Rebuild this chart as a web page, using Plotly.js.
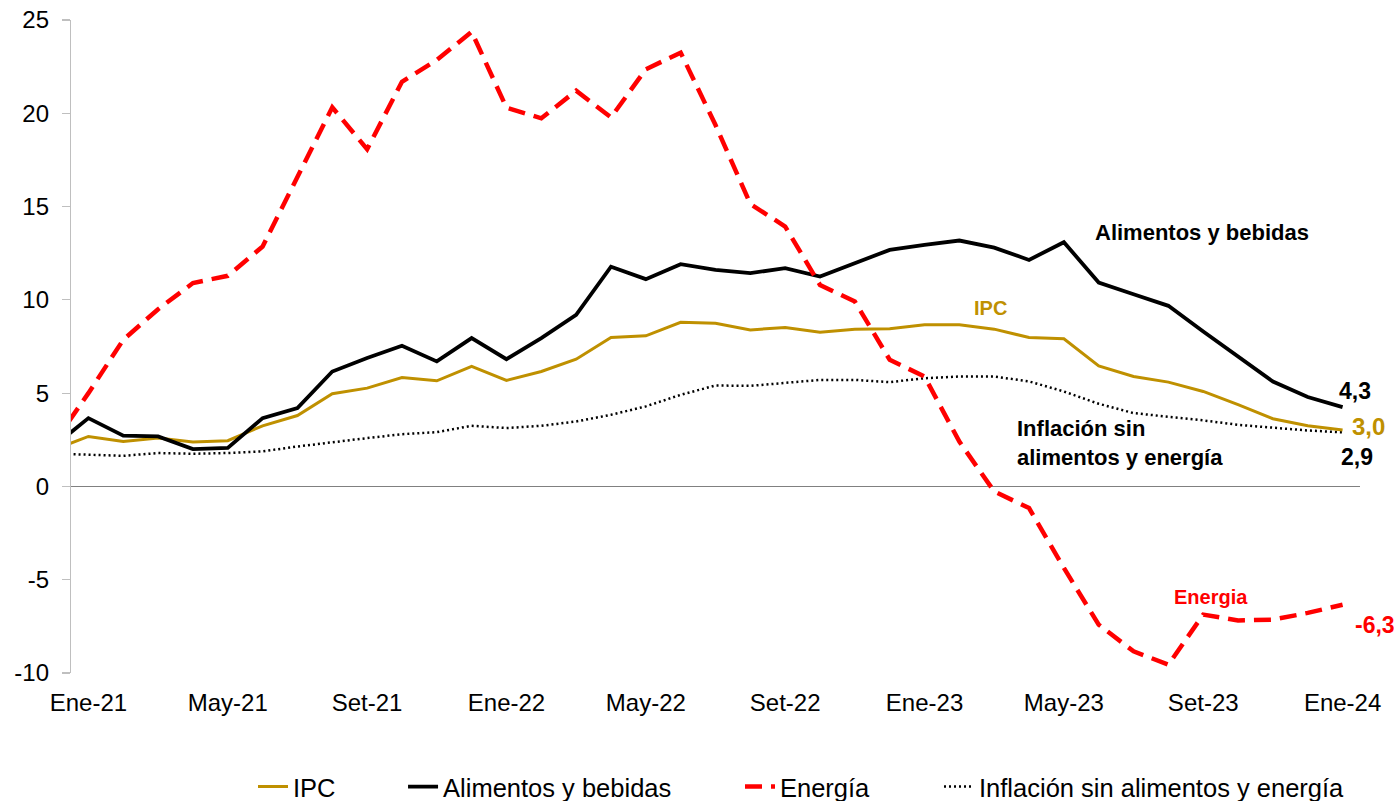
<!DOCTYPE html>
<html>
<head>
<meta charset="utf-8">
<script src="https://cdn.plot.ly/plotly-3.0.1.min.js"></script>
<style>html,body{margin:0;padding:0;background:#fff;}#chart{width:1399px;height:801px;}</style>
</head>
<body>
<div id="chart"></div>
<script>
const months = ['Dic-20','Ene-21','Feb-21','Mar-21','Abr-21','May-21','Jun-21','Jul-21','Ago-21','Set-21','Oct-21','Nov-21','Dic-21',
  'Ene-22','Feb-22','Mar-22','Abr-22','May-22','Jun-22','Jul-22','Ago-22','Set-22','Oct-22','Nov-22','Dic-22',
  'Ene-23','Feb-23','Mar-23','Abr-23','May-23','Jun-23','Jul-23','Ago-23','Set-23','Oct-23','Nov-23','Dic-23','Ene-24'];
const tickLabels = ['Ene-21','May-21','Set-21','Ene-22','May-22','Set-22','Ene-23','May-23','Set-23','Ene-24'];

const ipc = [1.97, 2.68, 2.41, 2.59, 2.38, 2.45, 3.25, 3.80, 4.97, 5.27, 5.84, 5.66, 6.43,
  5.68, 6.16, 6.82, 7.98, 8.07, 8.80, 8.75, 8.39, 8.52, 8.27, 8.43, 8.45,
  8.66, 8.66, 8.43, 7.98, 7.91, 6.46, 5.89, 5.59, 5.09, 4.38, 3.63, 3.25, 3.02];
const alimentos = [2.14, 3.66, 2.72, 2.68, 2.00, 2.06, 3.66, 4.20, 6.16, 6.88, 7.54, 6.70, 7.95,
  6.82, 7.95, 9.20, 11.78, 11.11, 11.91, 11.61, 11.43, 11.70, 11.25, 11.96, 12.68,
  12.95, 13.18, 12.80, 12.14, 13.09, 10.93, 10.30, 9.68, 8.30, 6.96, 5.62, 4.79, 4.25];
const energia = [2.3, 5.0, 7.86, 9.5, 10.9, 11.29, 12.86, 16.6, 20.32, 18.07, 21.69, 22.86, 24.37,
  20.3, 19.73, 21.21, 19.78, 22.36, 23.25, 19.37, 15.14, 13.93, 10.8, 9.91, 6.79,
  5.89, 2.4, -0.27, -1.16, -4.37, -7.41, -8.84, -9.55, -6.87, -7.18, -7.14, -6.78, -6.34];
const subyacente = [1.76, 1.70, 1.64, 1.79, 1.75, 1.79, 1.88, 2.14, 2.38, 2.59, 2.80, 2.91, 3.25,
  3.13, 3.25, 3.48, 3.84, 4.29, 4.91, 5.41, 5.39, 5.54, 5.71, 5.71, 5.59,
  5.80, 5.89, 5.89, 5.63, 5.09, 4.43, 3.93, 3.75, 3.54, 3.30, 3.13, 3.00, 2.90];

const names = ['IPC', 'Alimentos y bebidas', 'Energía', 'Inflación sin alimentos y energía'];
const endLabels = ['3,0', '4,3', '-6,3', '2,9'];

const FONT = '"Liberation Sans", Arial, sans-serif';
const GOLD = '#BF9000', RED = '#FF0000', BLACK = '#000000';

const traces = [
  {x: months, y: ipc, name: names[0], type: 'scatter', mode: 'lines', line: {color: GOLD, width: 3}, legend: 'legend'},
  {x: months, y: alimentos, name: names[1], type: 'scatter', mode: 'lines', line: {color: BLACK, width: 3.8}, legend: 'legend2'},
  {x: months, y: energia, name: names[2], type: 'scatter', mode: 'lines', line: {color: RED, width: 4.5, dash: '17px,9px'}, legend: 'legend3'},
  {x: months, y: subyacente, name: names[3], type: 'scatter', mode: 'lines', line: {color: BLACK, width: 2.5, dash: '2px,3px'}, legend: 'legend4'}
];
const ordered = [traces[3], traces[0], traces[1], traces[2]];

function legendAt(x) {
  return {x: x, y: -0.1746, xanchor: 'left', yanchor: 'middle', orientation: 'h',
    bgcolor: 'rgba(0,0,0,0)', borderwidth: 0, font: {family: FONT, size: 25.5, color: '#000'}};
}

function ann(text, x, y, color, size) {
  return {text: text, x: x, y: y, xref: 'x', yref: 'y', xanchor: 'left', yanchor: 'middle',
    showarrow: false, align: 'left', font: {family: FONT, size: size, color: color, weight: 'bold'}};
}

const layout = {
  width: 1399, height: 801,
  margin: {l: 71, r: 39, t: 20, b: 128, pad: 0, autoexpand: false},
  paper_bgcolor: '#fff', plot_bgcolor: '#fff',
  showlegend: true,
  font: {family: FONT, size: 24, color: '#000'},
  xaxis: {
    type: 'category', categoryorder: 'array', categoryarray: months,
    range: [0.5, 37.5], showgrid: false, zeroline: false, showline: false,
    ticks: '', tickmode: 'array', tickvals: tickLabels, ticktext: tickLabels,
    tickfont: {family: FONT, size: 24, color: '#000'}, ticklabelstandoff: 13, fixedrange: true
  },
  yaxis: {
    range: [-10, 25], tickmode: 'array', tickvals: [-10, -5, 0, 5, 10, 15, 20, 25],
    ticktext: ['-10', '-5', '0', '5', '10', '15', '20', '25'],
    showgrid: false, showline: true, linecolor: '#BFBFBF', linewidth: 1.2,
    ticks: 'outside', ticklen: 8, tickcolor: '#BFBFBF', tickwidth: 1.2,
    zeroline: true, zerolinecolor: '#808080', zerolinewidth: 1.6,
    tickfont: {family: FONT, size: 24, color: '#000'}, ticklabelstandoff: 8, fixedrange: true
  },
  legend: legendAt(0.1412),
  legend2: legendAt(0.2576),
  legend3: legendAt(0.519),
  legend4: legendAt(0.6734),
  annotations: [
    ann(names[1], 29.83, 13.59, BLACK, 22),
    ann('IPC', 26.36, 9.57, GOLD, 20),
    ann('Inflación sin<br>alimentos y energía', 27.6, 2.35, BLACK, 22),
    ann('Energia', 32.1, -5.95, RED, 20),
    ann(endLabels[1], 36.84, 5.12, BLACK, 23),
    ann(endLabels[0], 37.21, 3.2, GOLD, 24),
    ann(endLabels[3], 36.9, 1.59, BLACK, 23),
    ann(endLabels[2], 37.3, -7.41, RED, 23)
  ]
};

Plotly.newPlot('chart', ordered, layout, {displayModeBar: false, staticPlot: true});
</script>
</body>
</html>
